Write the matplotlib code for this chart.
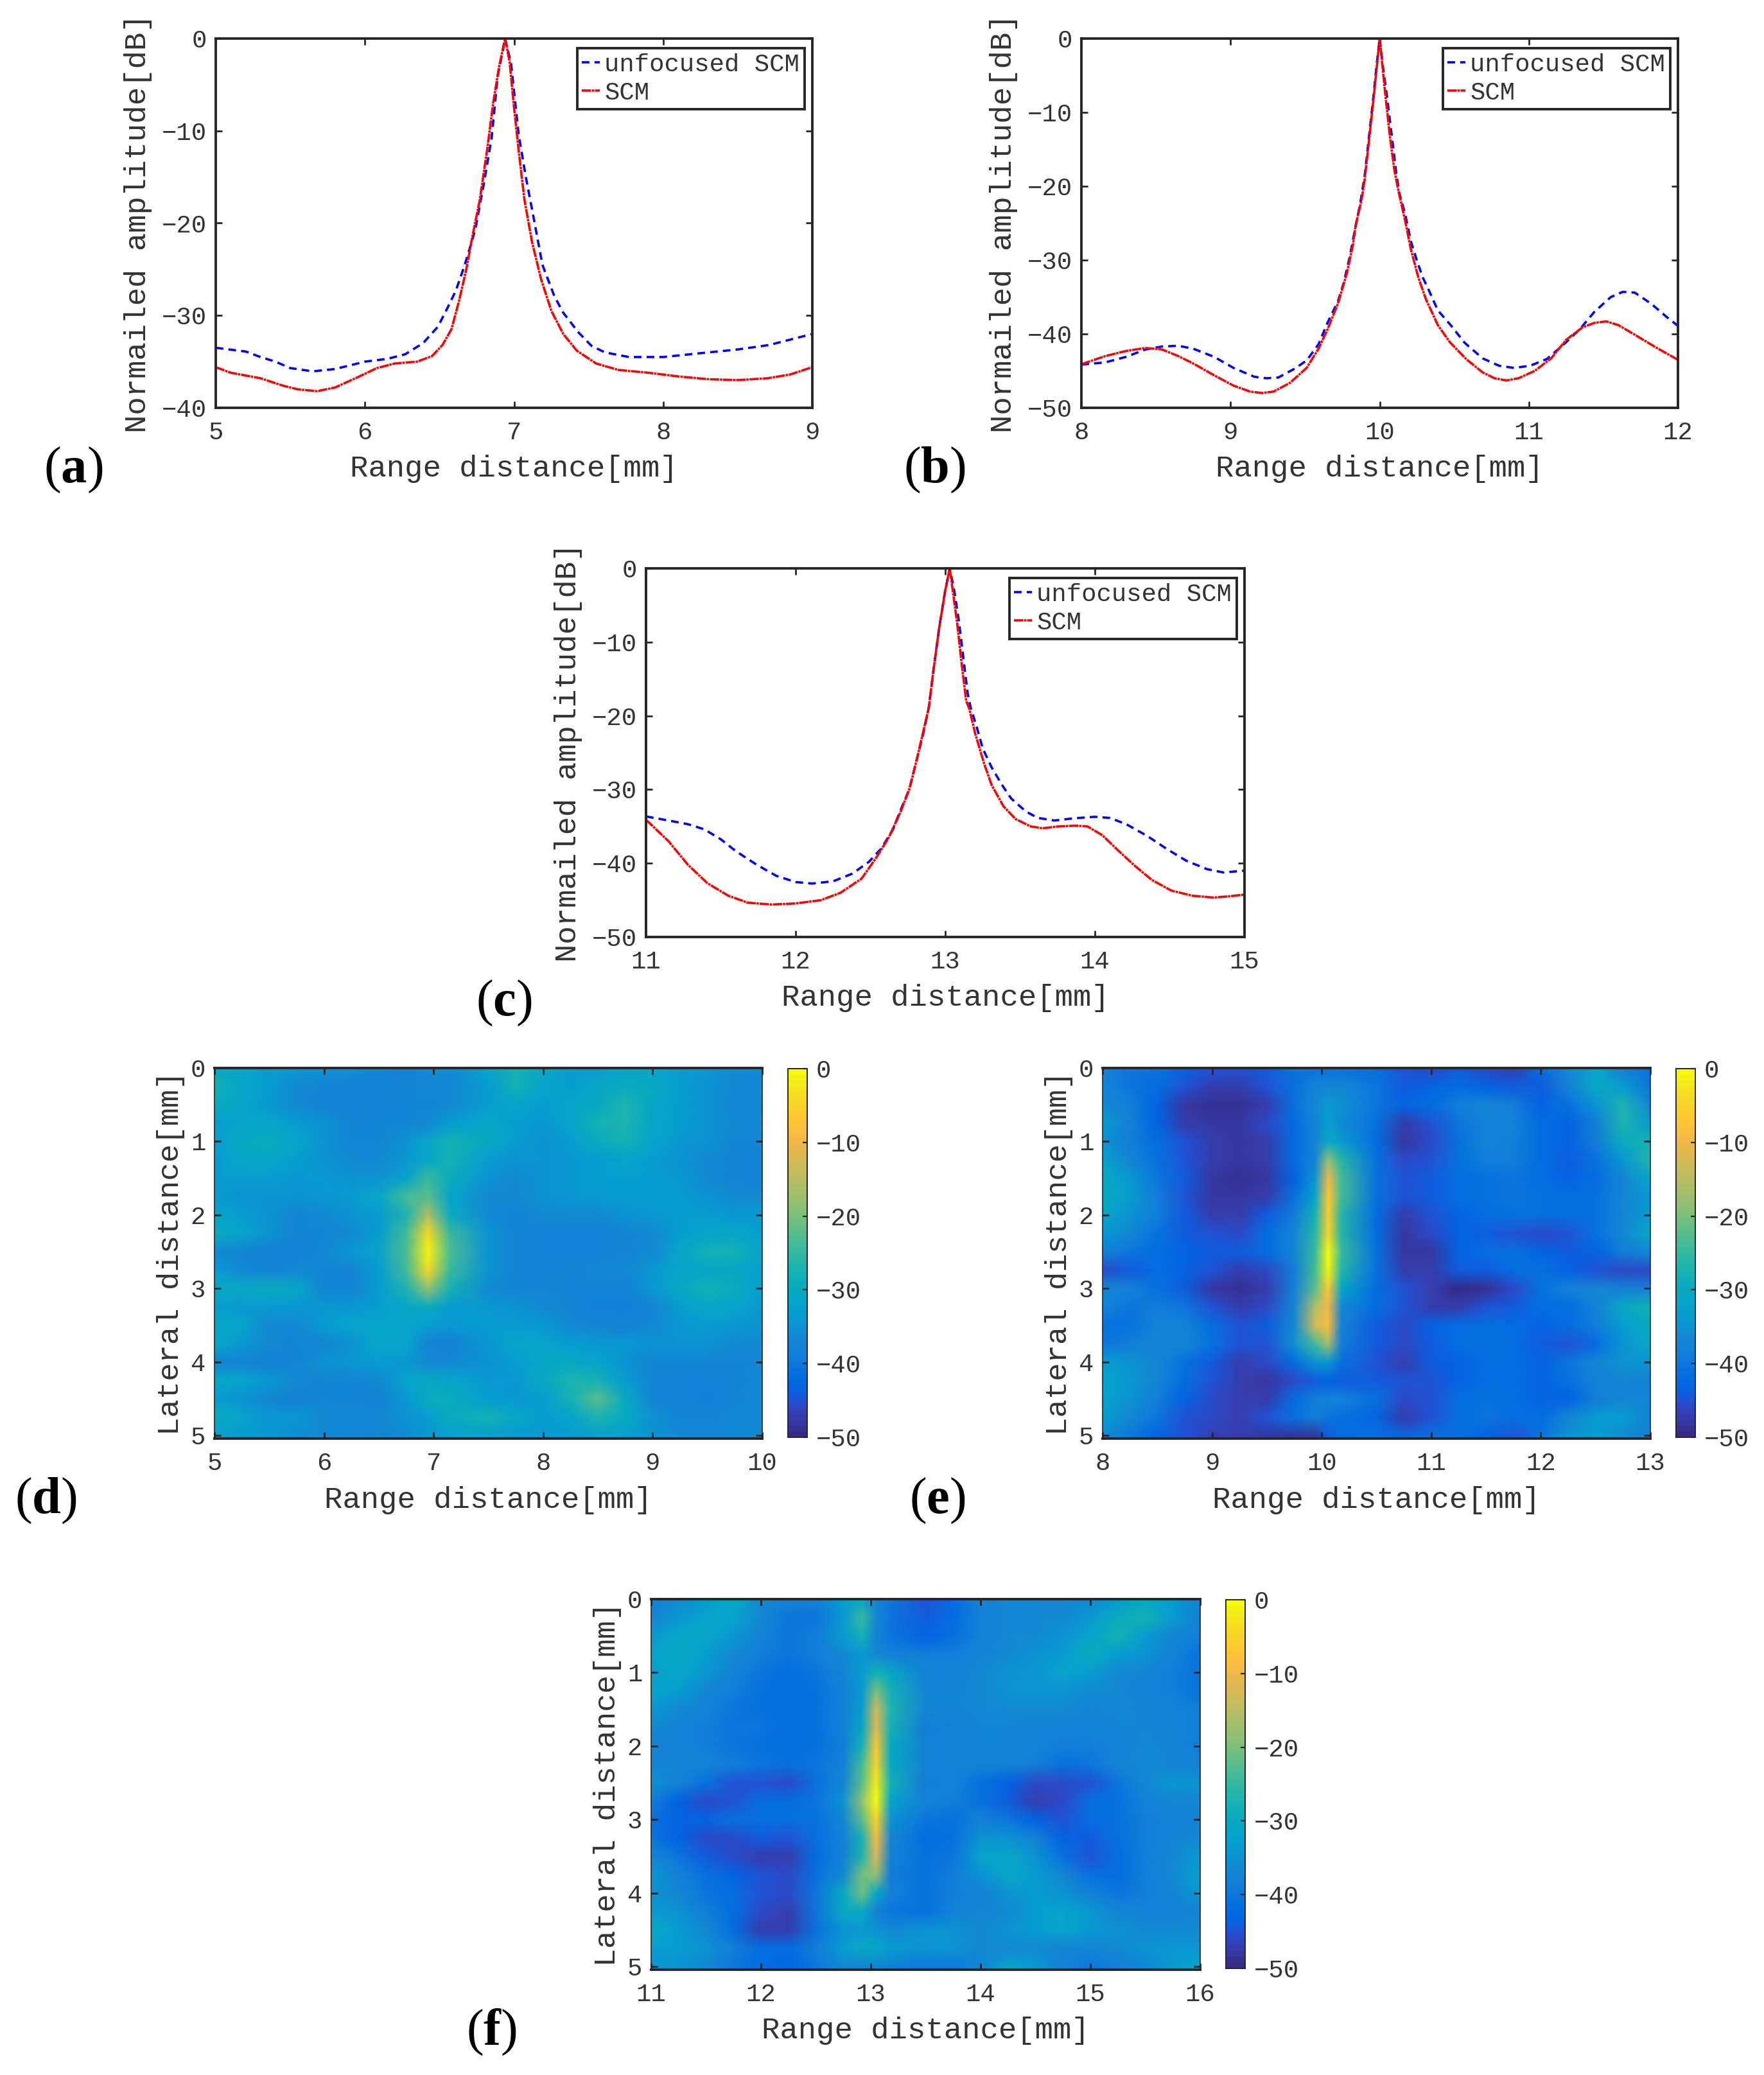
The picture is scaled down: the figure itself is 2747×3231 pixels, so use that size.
import numpy as np
import matplotlib
matplotlib.use("Agg")
import matplotlib.pyplot as plt
from matplotlib.colors import ListedColormap

W, H = 2747, 3231
DARK = "#262626"
TXT = "#333333"

plt.rcParams["font.family"] = ["Liberation Mono", "DejaVu Sans"]
plt.rcParams["mathtext.fontset"] = "custom"
plt.rcParams["mathtext.rm"] = "Liberation Serif"
plt.rcParams["mathtext.bf"] = "Liberation Serif:bold"

parula = ListedColormap([
    [0.2081, 0.1663, 0.5292], [0.2116, 0.1898, 0.5777], [0.2123, 0.2138, 0.6270], [0.2081, 0.2386, 0.6771],
    [0.1959, 0.2645, 0.7279], [0.1707, 0.2919, 0.7792], [0.1253, 0.3242, 0.8303], [0.0591, 0.3598, 0.8683],
    [0.0117, 0.3875, 0.8820], [0.0060, 0.4086, 0.8828], [0.0165, 0.4266, 0.8786], [0.0329, 0.4430, 0.8720],
    [0.0498, 0.4586, 0.8641], [0.0629, 0.4737, 0.8554], [0.0723, 0.4887, 0.8467], [0.0779, 0.5040, 0.8384],
    [0.0793, 0.5200, 0.8312], [0.0749, 0.5375, 0.8263], [0.0641, 0.5570, 0.8240], [0.0488, 0.5772, 0.8228],
    [0.0343, 0.5966, 0.8199], [0.0265, 0.6137, 0.8135], [0.0239, 0.6287, 0.8038], [0.0231, 0.6418, 0.7913],
    [0.0228, 0.6535, 0.7768], [0.0267, 0.6642, 0.7607], [0.0384, 0.6743, 0.7436], [0.0590, 0.6838, 0.7254],
    [0.0843, 0.6928, 0.7062], [0.1133, 0.7015, 0.6859], [0.1453, 0.7098, 0.6646], [0.1801, 0.7177, 0.6424],
    [0.2178, 0.7250, 0.6193], [0.2586, 0.7317, 0.5954], [0.3022, 0.7376, 0.5712], [0.3482, 0.7424, 0.5473],
    [0.3953, 0.7459, 0.5244], [0.4420, 0.7481, 0.5033], [0.4871, 0.7491, 0.4840], [0.5300, 0.7491, 0.4661],
    [0.5709, 0.7485, 0.4494], [0.6099, 0.7473, 0.4337], [0.6473, 0.7456, 0.4188], [0.6834, 0.7435, 0.4044],
    [0.7184, 0.7411, 0.3905], [0.7525, 0.7384, 0.3768], [0.7858, 0.7356, 0.3633], [0.8185, 0.7327, 0.3498],
    [0.8507, 0.7299, 0.3360], [0.8824, 0.7274, 0.3217], [0.9139, 0.7258, 0.3063], [0.9450, 0.7261, 0.2886],
    [0.9739, 0.7314, 0.2666], [0.9938, 0.7455, 0.2403], [0.9990, 0.7653, 0.2164], [0.9955, 0.7861, 0.1967],
    [0.9880, 0.8066, 0.1794], [0.9789, 0.8271, 0.1633], [0.9697, 0.8481, 0.1475], [0.9626, 0.8705, 0.1309],
    [0.9589, 0.8949, 0.1132], [0.9598, 0.9218, 0.0948], [0.9661, 0.9514, 0.0755], [0.9763, 0.9831, 0.0538],
])

# line profiles, range [mm] / amplitude [dB]
a_unf_x = [5, 5.2, 5.3, 5.4, 5.5, 5.65, 5.8, 6.0, 6.15, 6.27, 6.39, 6.49, 6.55, 6.61, 6.67, 6.74, 6.8, 6.85, 6.89, 6.925, 6.94,
           6.98, 7.03, 7.08, 7.13, 7.19, 7.27, 7.33, 7.43, 7.52, 7.61, 7.77, 8.0, 8.24, 8.49, 8.71, 9]
a_unf_y = [-33.5, -33.9, -34.5, -35, -35.7, -36.05, -35.8, -35, -34.7, -34.2, -33, -31.2, -29.3, -27.3, -24.5, -20.7, -15.5, -10.7, -4.1, -1.3, 0,
           -2.7, -10.3, -15.1, -19.3, -24.5, -27.9, -29.7, -31.8, -33.3, -34, -34.5, -34.5, -34.1, -33.7, -33.2, -32]
a_scm_x = [5, 5.1, 5.3, 5.45, 5.55, 5.68, 5.8, 5.95, 6.08, 6.2, 6.35, 6.45, 6.52, 6.58, 6.63, 6.68, 6.72, 6.77, 6.82, 6.86, 6.9, 6.94,
           6.97, 7.0, 7.03, 7.07, 7.12, 7.18, 7.25, 7.33, 7.42, 7.55, 7.7, 7.9, 8.1, 8.3, 8.5, 8.7, 8.85, 9]
a_scm_y = [-35.6, -36.2, -36.8, -37.6, -38, -38.2, -37.8, -36.7, -35.7, -35.2, -35, -34.4, -33.2, -31.5, -28.5, -25, -21.5, -17.5, -12, -7, -3, 0,
           -2.5, -7.5, -12, -17.5, -22, -26, -29.5, -32, -33.8, -35.2, -35.9, -36.2, -36.6, -36.9, -37, -36.8, -36.4, -35.6]

b_unf_x = [8, 8.16, 8.3, 8.43, 8.54, 8.65, 8.75, 8.89, 9.02, 9.16, 9.24, 9.32, 9.43, 9.51, 9.59, 9.65, 9.72, 9.76, 9.8, 9.83, 9.87,
           9.9, 9.93, 9.96, 9.98, 10, 10.02, 10.05, 10.08, 10.11, 10.13, 10.17, 10.21, 10.25, 10.29, 10.33, 10.39, 10.48, 10.57, 10.69,
           10.8, 10.9, 11.01, 11.12, 11.23, 11.34, 11.44, 11.55, 11.63, 11.71, 11.82, 11.93, 12]
b_unf_y = [-44.15, -43.85, -43.1, -42.1, -41.7, -41.6, -42, -43.1, -44.6, -45.8, -46, -45.9, -44.7, -43.6, -41.4, -38.5, -35.6, -33, -29.5, -26.3, -22.3,
           -18.5, -13, -7.5, -3.5, 0, -3.5, -8, -13, -18, -20.8, -23.7, -27.5, -30.1, -32.4, -34.1, -36.8, -38.9, -41.2, -43.3,
           -44.3, -44.6, -44.3, -43.4, -41.5, -39.4, -37, -35, -34.3, -34.4, -35.9, -37.8, -38.9]
b_scm_x = [8, 8.16, 8.3, 8.43, 8.54, 8.65, 8.75, 8.89, 9.02, 9.13, 9.21, 9.29, 9.4, 9.51, 9.59, 9.65, 9.72, 9.78, 9.82, 9.84, 9.88,
           9.9, 9.93, 9.96, 9.98, 10, 10.02, 10.04, 10.07, 10.1, 10.13, 10.17, 10.21, 10.26, 10.31, 10.39, 10.47, 10.58, 10.69, 10.77,
           10.85, 10.93, 11.04, 11.15, 11.25, 11.36, 11.44, 11.52, 11.6, 11.71, 11.85, 12]
b_scm_y = [-44.1, -43, -42.3, -41.9, -42.1, -43, -44, -45.6, -47, -47.8, -48, -47.8, -46.6, -44.6, -42, -39.4, -35.9, -31.8, -28, -25.2, -21.7,
           -19, -13.5, -8, -4, 0, -4, -8, -13.5, -18, -21, -24.6, -28.6, -32.4, -35.3, -38.8, -41.1, -43.4, -45.2, -46,
           -46.3, -46, -45, -43.3, -40.8, -39.1, -38.5, -38.3, -38.8, -40.1, -41.8, -43.5]

c_unf_x = [11, 11.15, 11.28, 11.39, 11.5, 11.6, 11.74, 11.87, 12, 12.11, 12.25, 12.38, 12.49, 12.57, 12.65, 12.7, 12.76, 12.81, 12.85, 12.89,
           12.92, 12.96, 13, 13.03, 13.06, 13.09, 13.12, 13.15, 13.17, 13.21, 13.25, 13.31, 13.38, 13.44, 13.54, 13.62, 13.73, 13.86, 14,
           14.1, 14.21, 14.35, 14.48, 14.61, 14.75, 14.86, 15]
c_unf_y = [-33.65, -34.2, -34.7, -35.4, -36.75, -38.35, -40.2, -41.7, -42.55, -42.75, -42.45, -41.4, -39.8, -38.05, -35.45, -32.85, -29.95, -25.9, -22.7, -18.9,
           -14, -8, -3, 0, -3, -7, -12, -17, -18.9, -21.5, -24.4, -27, -29.4, -31.2, -33, -33.85, -34.2, -33.9, -33.7,
           -33.85, -34.7, -36.3, -38.05, -39.65, -40.8, -41.25, -41]
c_scm_x = [11, 11.15, 11.28, 11.41, 11.55, 11.68, 11.84, 12, 12.17, 12.3, 12.44, 12.54, 12.62, 12.7, 12.76, 12.81, 12.85, 12.89,
           12.92, 12.96, 13, 13.03, 13.05, 13.08, 13.11, 13.14, 13.16, 13.2, 13.26, 13.31, 13.39, 13.47, 13.57, 13.65, 13.76, 13.87, 13.95,
           14.05, 14.16, 14.27, 14.38, 14.51, 14.65, 14.79, 14.89, 15]
c_scm_y = [-34.1, -37, -40.2, -42.7, -44.4, -45.35, -45.6, -45.45, -45, -44, -42.1, -39.2, -36.6, -33.1, -29.95, -25.9, -22.4, -18.9,
           -14, -8, -3, 0, -3, -7.5, -13, -18, -19, -22.4, -26.5, -29.4, -32.3, -34, -35, -35.25, -35, -34.9, -35,
           -36.2, -38.35, -40.4, -42.25, -43.7, -44.4, -44.65, -44.5, -44.25]

# images, lateral rows
lat = [0, .25, .5, .75, 1, 1.25, 1.5, 1.75, 2, 2.25, 2.5, 2.75, 3, 3.25, 3.5, 3.75, 4, 4.25, 4.5, 4.75, 5.04]

d_rng = [5, 5.25, 5.5, 5.75, 6, 6.25, 6.5, 6.75, 6.95, 7.15, 7.5, 7.75, 8, 8.25, 8.5, 8.75, 9, 9.25, 9.5, 9.75, 10]
d_img = [
    [-31, -32, -33, -34, -35, -35, -37, -38, -36, -36, -32, -28, -31, -33, -33, -32, -32, -33, -34, -36, -36],
    [-28, -31, -33, -36, -37, -38, -38, -37, -36, -36, -33, -28, -32, -33, -31, -29, -30, -33, -35, -36, -36],
    [-29, -32, -34, -36, -38, -38, -37, -37, -37, -36, -33, -32, -33, -32, -30, -27, -31, -33, -35, -37, -37],
    [-33, -32, -32, -33, -35, -37, -37, -37, -36, -33, -31, -33, -34, -32, -28, -27, -31, -33, -35, -36, -36],
    [-33, -30, -29, -32, -35, -37, -37, -35, -31, -28, -30, -33, -35, -33, -29, -28, -32, -34, -35, -37, -37],
    [-33, -31, -31, -33, -35, -36, -36, -34, -31, -28, -33, -35, -35, -34, -33, -32, -33, -35, -36, -37, -38],
    [-33, -33, -33, -34, -34, -35, -35, -32, -25, -29, -35, -36, -35, -34, -33, -33, -33, -34, -36, -37, -38],
    [-33, -35, -35, -35, -34, -33, -31, -24, -22, -32, -36, -36, -35, -34, -33, -33, -33, -33, -35, -36, -36],
    [-32, -33, -35, -37, -36, -35, -33, -27, -16, -29, -36, -37, -36, -36, -36, -35, -34, -33, -33, -34, -34],
    [-29, -32, -35, -37, -37, -36, -33, -24, -4, -25, -35, -37, -38, -38, -38, -37, -36, -33, -32, -31, -33],
    [-36, -37, -38, -38, -36, -34, -32, -23, -1, -23, -35, -37, -38, -38, -38, -37, -36, -31, -28, -28, -32],
    [-33, -36, -37, -36, -37, -37, -33, -24, -4, -25, -35, -37, -38, -37, -36, -36, -34, -32, -31, -31, -33],
    [-30, -30, -29, -31, -37, -37, -33, -27, -18, -28, -36, -37, -37, -37, -38, -38, -34, -30, -28, -29, -33],
    [-33, -34, -34, -34, -34, -34, -33, -31, -29, -33, -34, -35, -36, -37, -39, -39, -37, -33, -31, -32, -34],
    [-31, -32, -36, -36, -33, -32, -32, -32, -33, -34, -33, -33, -34, -36, -37, -38, -36, -34, -33, -34, -35],
    [-31, -34, -36, -37, -37, -35, -31, -32, -37, -38, -34, -32, -32, -33, -34, -34, -35, -35, -35, -36, -36],
    [-37, -37, -38, -37, -35, -34, -33, -34, -36, -36, -35, -33, -31, -30, -32, -35, -37, -37, -37, -37, -37],
    [-31, -32, -34, -36, -37, -37, -36, -32, -30, -32, -34, -34, -30, -27, -28, -33, -37, -38, -38, -37, -36],
    [-33, -35, -37, -38, -37, -37, -38, -34, -29, -29, -33, -34, -33, -28, -22, -30, -37, -38, -39, -37, -36],
    [-29, -32, -34, -34, -36, -36, -36, -35, -33, -29, -28, -31, -33, -32, -27, -30, -35, -37, -37, -36, -36],
    [-33, -34, -35, -36, -36, -36, -37, -36, -34, -33, -33, -34, -34, -34, -33, -33, -35, -36, -36, -36, -36],
]

e_rng = [8, 8.25, 8.5, 8.75, 9, 9.25, 9.5, 9.75, 9.94, 10.06, 10.18, 10.5, 10.75, 11, 11.25, 11.5, 11.75, 12, 12.25, 12.5, 12.75, 13]
e_img = [
    [-37, -40, -41, -43, -45, -45, -44, -41, -41, -41, -41, -42, -45, -46, -44, -46, -47, -42, -36, -32, -38, -41],
    [-37, -40, -42, -45, -47, -47, -45, -41, -38, -37, -37, -40, -44, -43, -42, -43, -44, -44, -38, -30, -33, -40],
    [-36, -39, -43, -48, -49, -49, -47, -41, -36, -33, -35, -40, -43, -42, -39, -37, -39, -43, -41, -35, -27, -37],
    [-33, -38, -43, -47, -48, -48, -46, -42, -37, -33, -36, -41, -47, -45, -40, -38, -38, -42, -43, -39, -27, -33],
    [-35, -39, -42, -45, -47, -48, -47, -42, -38, -30, -33, -42, -48, -46, -41, -38, -39, -42, -43, -39, -29, -28],
    [-32, -37, -41, -45, -47, -48, -47, -42, -37, -18, -26, -41, -46, -45, -41, -39, -39, -42, -44, -41, -34, -26],
    [-30, -34, -40, -44, -48, -49, -48, -43, -35, -10, -24, -41, -45, -44, -42, -41, -40, -42, -43, -42, -37, -31],
    [-30, -33, -39, -45, -48, -48, -47, -41, -32, -7, -24, -41, -45, -44, -42, -41, -40, -41, -42, -41, -37, -34],
    [-31, -35, -39, -44, -47, -47, -44, -39, -28, -6, -26, -42, -47, -45, -43, -42, -41, -41, -42, -41, -37, -33],
    [-34, -37, -41, -44, -45, -46, -42, -37, -26, -5, -26, -42, -48, -46, -43, -44, -45, -46, -45, -41, -36, -31],
    [-38, -40, -42, -43, -44, -44, -42, -37, -25, 0, -25, -41, -48, -48, -43, -42, -41, -43, -44, -43, -39, -36],
    [-46, -44, -42, -43, -45, -47, -46, -39, -24, -1, -26, -41, -47, -47, -44, -44, -42, -41, -43, -45, -46, -46],
    [-36, -38, -41, -44, -48, -49, -47, -38, -22, -7, -31, -42, -45, -47, -50, -49, -46, -41, -38, -37, -38, -38],
    [-38, -40, -39, -40, -45, -47, -46, -37, -16, -10, -36, -42, -45, -47, -47, -45, -44, -42, -42, -38, -30, -28],
    [-41, -41, -38, -38, -42, -45, -44, -36, -13, -8, -38, -44, -46, -43, -42, -42, -42, -43, -42, -39, -33, -30],
    [-40, -39, -37, -37, -41, -45, -45, -35, -24, -17, -39, -44, -46, -44, -42, -41, -42, -44, -45, -42, -35, -30],
    [-33, -35, -37, -41, -44, -47, -46, -42, -35, -34, -41, -45, -47, -44, -43, -42, -42, -43, -40, -37, -35, -35],
    [-32, -34, -37, -42, -45, -47, -48, -46, -44, -43, -44, -44, -45, -45, -43, -42, -42, -43, -41, -38, -37, -38],
    [-32, -35, -39, -43, -46, -47, -47, -42, -39, -38, -38, -41, -46, -45, -42, -41, -42, -43, -43, -39, -37, -37],
    [-33, -36, -40, -45, -46, -47, -45, -41, -39, -40, -41, -43, -47, -45, -42, -40, -42, -42, -37, -33, -33, -38],
    [-36, -40, -43, -45, -47, -47, -48, -49, -49, -44, -42, -41, -42, -41, -41, -43, -45, -40, -35, -33, -36, -38],
]

f_rng = [11, 11.25, 11.5, 11.75, 12, 12.25, 12.5, 12.75, 12.92, 13.05, 13.18, 13.5, 13.75, 14, 14.25, 14.5, 14.75, 15, 15.25, 15.5, 15.75, 16]
f_img = [
    [-38, -36, -34, -31, -36, -38, -38, -33, -32, -37, -40, -45, -42, -38, -36, -36, -37, -36, -34, -31, -34, -38],
    [-37, -34, -32, -32, -36, -40, -40, -34, -25, -36, -40, -44, -42, -38, -36, -36, -36, -34, -29, -28, -33, -38],
    [-34, -31, -31, -34, -38, -40, -39, -33, -28, -38, -40, -43, -41, -38, -36, -36, -35, -32, -28, -33, -37, -39],
    [-32, -30, -33, -36, -39, -40, -39, -36, -34, -36, -38, -39, -39, -37, -36, -35, -33, -29, -33, -35, -38, -41],
    [-33, -31, -34, -38, -40, -42, -40, -37, -33, -28, -31, -38, -38, -36, -35, -34, -32, -33, -36, -37, -39, -41],
    [-32, -33, -37, -39, -41, -42, -41, -38, -34, -20, -28, -37, -37, -36, -35, -35, -35, -36, -36, -38, -39, -41],
    [-34, -36, -38, -40, -41, -42, -41, -38, -33, -13, -27, -37, -37, -36, -36, -36, -36, -37, -36, -37, -38, -39],
    [-36, -38, -39, -40, -40, -42, -41, -38, -31, -11, -28, -39, -38, -37, -37, -38, -38, -38, -37, -37, -38, -39],
    [-38, -38, -39, -40, -41, -42, -41, -39, -28, -7, -30, -38, -38, -37, -37, -38, -39, -39, -38, -36, -37, -39],
    [-37, -37, -38, -39, -40, -41, -40, -38, -24, -5, -30, -38, -38, -38, -38, -39, -41, -40, -37, -36, -37, -38],
    [-35, -38, -41, -45, -45, -46, -41, -37, -22, -2, -28, -39, -38, -41, -43, -46, -46, -45, -40, -36, -34, -35],
    [-39, -43, -46, -45, -42, -42, -40, -35, -18, 0, -32, -38, -39, -41, -44, -47, -46, -42, -41, -38, -37, -37],
    [-41, -43, -43, -41, -41, -41, -41, -37, -22, -5, -35, -40, -41, -38, -40, -43, -45, -42, -41, -39, -38, -38],
    [-40, -43, -46, -46, -44, -45, -41, -38, -28, -9, -37, -42, -41, -35, -35, -38, -43, -44, -41, -39, -37, -36],
    [-37, -40, -44, -46, -47, -47, -42, -38, -27, -12, -38, -41, -40, -32, -31, -35, -41, -45, -42, -39, -36, -34],
    [-34, -38, -41, -43, -45, -46, -41, -36, -21, -18, -39, -41, -39, -35, -31, -33, -37, -41, -42, -39, -36, -32],
    [-35, -37, -40, -42, -45, -46, -40, -30, -21, -31, -38, -41, -39, -38, -35, -33, -35, -38, -40, -39, -37, -34],
    [-33, -35, -39, -42, -46, -47, -40, -30, -30, -38, -40, -41, -38, -37, -36, -33, -32, -34, -37, -38, -38, -37],
    [-30, -33, -36, -42, -47, -47, -41, -35, -34, -35, -36, -35, -35, -36, -35, -33, -32, -34, -35, -36, -36, -36],
    [-33, -33, -35, -39, -42, -42, -39, -33, -30, -31, -33, -35, -35, -36, -36, -36, -37, -37, -36, -35, -34, -34],
    [-35, -35, -37, -40, -42, -43, -40, -37, -38, -38, -39, -40, -40, -37, -31, -33, -38, -40, -39, -37, -33, -32],
]


def px_axes(fig, x0, y0, x1, y1):
    return fig.add_axes([x0 / W, 1 - y1 / H, (x1 - x0) / W, (y1 - y0) / H])


def style_axes(ax):
    ax.tick_params(direction="in", top=True, right=True, length=7, width=2.0, color=DARK, labelcolor=TXT, labelsize=28)
    ax.tick_params(axis="x", pad=15)
    ax.tick_params(axis="y", pad=10)
    for s in ax.spines.values():
        s.set_linewidth(2.8)
        s.set_edgecolor(DARK)
        s.set_zorder(5)


def line_panel(fig, box, xlim, ylim, yticks, unf, scm):
    ax = px_axes(fig, *box)
    ax.plot(unf[0], unf[1], color="#0000ff", ls=(0, (3.3, 2.2)), lw=2.6, label="unfocused SCM")
    ax.plot(scm[0], scm[1], color="#ff0000", ls=(0, (4, 0.35, 1, 0.35)), lw=2.6, label="SCM")
    ax.set_xlim(xlim)
    ax.set_ylim(ylim)
    ax.set_xticks(np.arange(xlim[0], xlim[1] + 1))
    ax.set_yticks(yticks)
    ax.set_xlabel("Range distance[mm]", fontsize=34, color=TXT, labelpad=12)
    ax.set_ylabel("Normailed amplitude[dB]", fontsize=34, color=TXT, labelpad=11)
    style_axes(ax)
    w = box[2] - box[0]
    h = box[3] - box[1]
    leg = ax.legend(loc="upper right", bbox_to_anchor=(1 - 12 / w, 1 - 15 / h), fontsize=28, fancybox=False,
                    framealpha=1, edgecolor=DARK, borderaxespad=0, handlelength=0.7, handletextpad=0.2,
                    borderpad=0.2, labelspacing=0.2)
    leg.get_frame().set_linewidth(2.8)
    for t in leg.get_texts():
        t.set_color(TXT)
    return ax


def image_panel(fig, box, cbox, xs, img):
    ax = px_axes(fig, *box)
    mesh = ax.pcolormesh(xs, lat, np.array(img, dtype=float), cmap=parula, vmin=-50, vmax=0, shading="gouraud")
    ax.set_xlim(xs[0], xs[-1])
    ax.set_ylim(5.04, 0)
    ax.set_xticks(np.arange(xs[0], xs[-1] + 1))
    ax.set_yticks(range(6))
    ax.set_xlabel("Range distance[mm]", fontsize=34, color=TXT, labelpad=12)
    ax.set_ylabel("Lateral distance[mm]", fontsize=34, color=TXT, labelpad=6)
    style_axes(ax)
    ax.spines["left"].set_linewidth(1.2)
    ax.spines["right"].set_linewidth(1.2)
    cax = px_axes(fig, *cbox)
    cb = fig.colorbar(mesh, cax=cax)
    cb.set_ticks([0, -10, -20, -30, -40, -50])
    cb.ax.tick_params(direction="in", length=5, width=1.6, color=DARK, labelcolor=TXT, labelsize=28, pad=10)
    cb.outline.set_linewidth(1.4)
    cb.outline.set_edgecolor(DARK)
    return ax


fig = plt.figure(figsize=(W / 100, H / 100), dpi=100)

line_panel(fig, (336, 60, 1265, 635), (5, 9), (-40, 0), [-40, -30, -20, -10, 0], (a_unf_x, a_unf_y), (a_scm_x, a_scm_y))
line_panel(fig, (1684, 60, 2613, 635), (8, 12), (-50, 0), [-50, -40, -30, -20, -10, 0], (b_unf_x, b_unf_y), (b_scm_x, b_scm_y))
line_panel(fig, (1006, 885, 1938, 1459), (11, 15), (-50, 0), [-50, -40, -30, -20, -10, 0], (c_unf_x, c_unf_y), (c_scm_x, c_scm_y))

image_panel(fig, (334, 1663, 1187, 2240), (1227, 1664, 1257, 2238), d_rng, d_img)
image_panel(fig, (1717, 1663, 2570, 2240), (2610, 1664, 2640, 2238), e_rng, e_img)
image_panel(fig, (1014, 2490, 1869, 3067), (1909, 2491, 1939, 3065), f_rng, f_img)

# panel letters
panel_labels = ["a", "b", "c", "d", "e", "f"]
label_x = [114, 1455, 785, 71, 1460, 765]
label_y = [732, 732, 1562, 2337, 2337, 3164]
for s, lx, ly in zip(panel_labels, label_x, label_y):
    fig.text(lx / W, 1 - ly / H, "($\\mathbf{%s}$)" % s, fontsize=58, family="Liberation Serif",
             ha="center", va="center", color="black")

fig.savefig("out.png", dpi=100)
